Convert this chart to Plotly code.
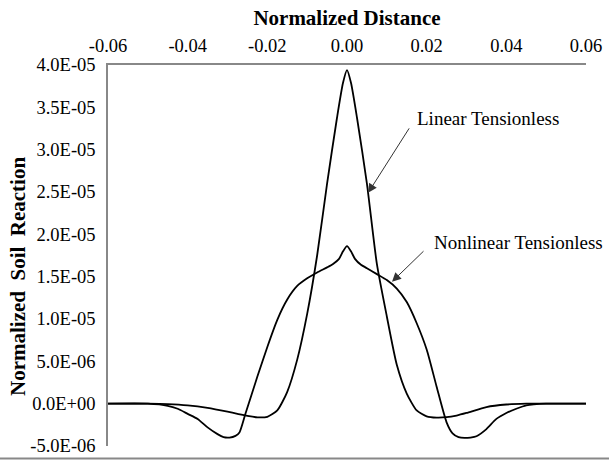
import plotly.graph_objects as go

# Linear tensionless response
lin_x = [-0.06, -0.05, -0.045, -0.04, -0.035, -0.03, -0.0275, -0.025, -0.0225,
         -0.02, -0.0175, -0.015, -0.0125, -0.01, -0.0075, -0.005, -0.0025,
         -0.001, 0.0, 0.001, 0.0025, 0.005, 0.0075, 0.01, 0.0125, 0.015,
         0.0175, 0.02, 0.0225, 0.025, 0.0275, 0.03, 0.035, 0.04, 0.045, 0.05, 0.06]
lin_y = [0.0, 0.0, -0.05e-6, -0.2e-6, -0.5e-6, -0.95e-6, -1.2e-6, -1.45e-6, -1.62e-6,
         -1.55e-6, -0.8e-6, 1.4e-6, 5.2e-6, 10.6e-6, 17.5e-6, 26.0e-6, 33.8e-6,
         37.9e-6, 39.4e-6, 37.9e-6, 33.8e-6, 26.0e-6, 16.5e-6, 10.3e-6, 4.6e-6, 1.2e-6,
         -0.8e-6, -1.5e-6, -1.65e-6, -1.6e-6, -1.4e-6, -1.1e-6, -0.4e-6, -0.1e-6, 0.0, 0.0, 0.0]

# Nonlinear tensionless response
nl_x = [-0.06, -0.05, -0.045, -0.0425, -0.04, -0.0375, -0.035, -0.0325, -0.031,
        -0.0295, -0.028, -0.027, -0.0255, -0.0225, -0.02, -0.0175, -0.015, -0.0125,
        -0.01, -0.0075, -0.005, -0.0035, -0.002, -0.001, 0.0, 0.001, 0.002, 0.0035,
        0.005, 0.0075, 0.01, 0.0125, 0.015, 0.0175, 0.02, 0.0225, 0.025, 0.0265,
        0.028, 0.0295, 0.031, 0.0325, 0.035, 0.0375, 0.04, 0.0425, 0.045, 0.05, 0.06]
nl_y = [0.0, 0.0, -0.25e-6, -0.6e-6, -1.2e-6, -1.8e-6, -2.8e-6, -3.6e-6, -3.95e-6,
        -4.0e-6, -3.8e-6, -3.4e-6, -1.2e-6, 3.2e-6, 6.7e-6, 9.9e-6, 12.3e-6, 13.9e-6,
        14.8e-6, 15.5e-6, 16.1e-6, 16.5e-6, 17.1e-6, 18.0e-6, 18.6e-6, 18.0e-6, 17.1e-6, 16.4e-6,
        16.0e-6, 15.3e-6, 14.6e-6, 13.6e-6, 12.0e-6, 9.5e-6, 6.4e-6, 2.0e-6, -2.2e-6, -3.5e-6,
        -3.95e-6, -4.05e-6, -4.0e-6, -3.85e-6, -3.0e-6, -1.8e-6, -1.1e-6, -0.6e-6, -0.2e-6, 0.0, 0.0]

x_ticks = [-0.06, -0.04, -0.02, 0.0, 0.02, 0.04, 0.06]
x_tick_text = ["-0.06", "-0.04", "-0.02", "0.00", "0.02", "0.04", "0.06"]
y_ticks = [-5e-6, 0.0, 5e-6, 1e-5, 1.5e-5, 2e-5, 2.5e-5, 3e-5, 3.5e-5, 4e-5]
y_tick_text = ["-5.0E-06", "0.0E+00", "5.0E-06", "1.0E-05", "1.5E-05",
               "2.0E-05", "2.5E-05", "3.0E-05", "3.5E-05", "4.0E-05"]

FONT = "Liberation Serif, Times New Roman, serif"

# plot area in pixels: x 108..586, y 65..446
PLOT_W, PLOT_H = 478, 381

fig = go.Figure()
fig.add_trace(go.Scatter(x=lin_x, y=lin_y, mode="lines", name="Linear Tensionless",
                         line=dict(color="black", width=1.8, shape="spline", smoothing=0.6)))
fig.add_trace(go.Scatter(x=nl_x, y=nl_y, mode="lines", name="Nonlinear Tensionless",
                         line=dict(color="black", width=1.8, shape="spline", smoothing=0.6)))

annotations = [
    # leader arrows (no text), then the curve labels
    dict(x=0.0053, y=24.9e-6, ax=42, ay=-66, text="", showarrow=True,
         arrowhead=2, arrowsize=1.8, arrowwidth=1, arrowcolor="#333"),
    dict(x=0.0113, y=14.4e-6, ax=33, ay=-32, text="", showarrow=True,
         arrowhead=2, arrowsize=1.8, arrowwidth=1, arrowcolor="#333"),
    dict(x=0.0171, y=33.7e-6, text="Linear Tensionless", showarrow=False,
         xanchor="left", yanchor="middle", font=dict(family=FONT, size=19, color="black")),
    dict(x=0.0213, y=19.0e-6, text="Nonlinear Tensionless", showarrow=False,
         xanchor="left", yanchor="middle", font=dict(family=FONT, size=19, color="black")),
    # vertical axis title
    dict(xref="paper", yref="paper", x=(18 - 108) / PLOT_W, y=(446 - 277) / PLOT_H,
         text="<b>Normalized\u00a0\u00a0Soil\u00a0\u00a0Reaction</b>", textangle=-90,
         showarrow=False, xanchor="center", yanchor="middle",
         font=dict(family=FONT, size=21, color="black")),
]

fig.update_layout(
    width=609, height=461,
    margin=dict(l=108, r=23, t=65, b=15),
    paper_bgcolor="white", plot_bgcolor="white",
    showlegend=False,
    font=dict(family=FONT, size=18.5, color="black"),
    annotations=annotations,
    shapes=[dict(type="line", xref="paper", yref="paper", x0=-108 / PLOT_W, x1=(609 - 108) / PLOT_W,
                 y0=-12.5 / PLOT_H, y1=-12.5 / PLOT_H, line=dict(color="#888", width=2))],
)
fig.update_xaxes(
    side="top", range=[-0.06, 0.06], tickvals=x_ticks, ticktext=x_tick_text,
    showgrid=False, zeroline=False, showline=True, linecolor="#888", linewidth=1.5,
    ticks="", ticklabelstandoff=4, automargin=False,
    title=dict(text="<b>Normalized Distance</b>", font=dict(size=21), standoff=4),
)
fig.update_yaxes(
    range=[-5e-6, 4e-5], tickvals=y_ticks, ticktext=y_tick_text,
    showgrid=False, zeroline=False, showline=True, linecolor="#888", linewidth=1.5,
    ticks="", ticklabelstandoff=7, automargin=False,
)

fig.write_html("out.html")
